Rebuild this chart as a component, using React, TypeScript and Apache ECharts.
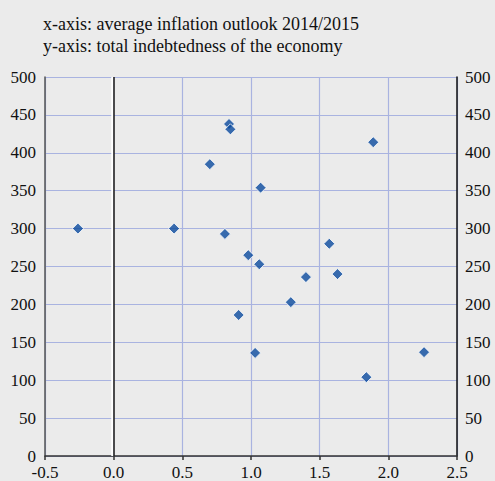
import React, { useEffect, useRef } from "react";
import * as echarts from "echarts";

const titleLines = [
  "x-axis: average inflation outlook 2014/2015",
  "y-axis: total indebtedness of the economy",
];
const inflation = [
  -0.26, 0.44, 0.84, 0.85, 0.7, 1.89, 1.07, 0.81, 0.98, 1.06, 1.57, 1.4, 1.63, 1.29, 0.91, 1.03, 2.26, 1.84,
];
const indebtedness = [
  300, 300, 438, 431, 385, 414, 354, 293, 265, 253, 280, 236, 240, 203, 186, 136, 137, 104,
];
const xMin = -0.5;
const xMax = 2.5;
const xStep = 0.5;
const yMin = 0;
const yMax = 500;
const yStep = 50;

const FONT = "'Liberation Serif', 'Times New Roman', serif";

export default function App() {
  const ref = useRef<HTMLDivElement>(null);
  useEffect(() => {
    if (!ref.current) return;
    const chart = echarts.init(ref.current, undefined, { renderer: "svg" });
    const points = inflation.map((x, i) => [x, indebtedness[i]]);
    const labelStyle = { color: "#111", fontSize: 17, fontFamily: FONT };
    chart.setOption({
      animation: false,
      backgroundColor: "#ebebeb",
      title: {
        text: titleLines.join("\n"),
        left: 38,
        top: 8,
        textStyle: { color: "#111", fontSize: 18, fontFamily: FONT, fontWeight: "normal", lineHeight: 22 },
      },
      grid: { left: 45, right: 38, top: 77, bottom: 25 },
      xAxis: {
        type: "value",
        min: xMin,
        max: xMax,
        interval: xStep,
        axisLine: { show: true, onZero: false, lineStyle: { color: "#333", width: 1.5 } },
        axisTick: { show: true, length: 4, lineStyle: { color: "#333", width: 1.5 } },
        axisLabel: {
          ...labelStyle,
          margin: 8,
          formatter: (v: number) => v.toFixed(1),
        },
        splitLine: { show: true, lineStyle: { color: "#a9b3e0", width: 1.2 } },
      },
      yAxis: [
        {
          type: "value",
          min: yMin,
          max: yMax,
          interval: yStep,
          position: "left",
          axisLine: { show: true, onZero: false, lineStyle: { color: "#555", width: 1.5 } },
          axisTick: { show: false },
          axisLabel: { ...labelStyle, margin: 9 },
          splitLine: { show: true, lineStyle: { color: "#a9b3e0", width: 1.2 } },
        },
        {
          type: "value",
          min: yMin,
          max: yMax,
          interval: yStep,
          position: "right",
          axisLine: { show: true, onZero: false, lineStyle: { color: "#111", width: 1.5 } },
          axisTick: { show: false },
          axisLabel: { ...labelStyle, margin: 8 },
          splitLine: { show: false },
        },
      ],
      series: [
        {
          type: "scatter",
          data: points,
          symbol: "diamond",
          symbolSize: 11,
          itemStyle: { color: "#0a4a9e", borderColor: "#ffffff", borderWidth: 1 },
          z: 5,
          markLine: {
            silent: true,
            symbol: "none",
            label: { show: false },
            z: 3,
            data: [
              { xAxis: -0.012, lineStyle: { color: "#ffffff", width: 2.5, type: "solid" } },
              { xAxis: 0, lineStyle: { color: "#222", width: 1.6, type: "solid" } },
            ],
          },
        },
      ],
    });
    return () => chart.dispose();
  }, []);
  return (
    <div
      ref={ref}
      style={{ position: "fixed", left: 0, top: 0, width: 495, height: 481 }}
    />
  );
}
